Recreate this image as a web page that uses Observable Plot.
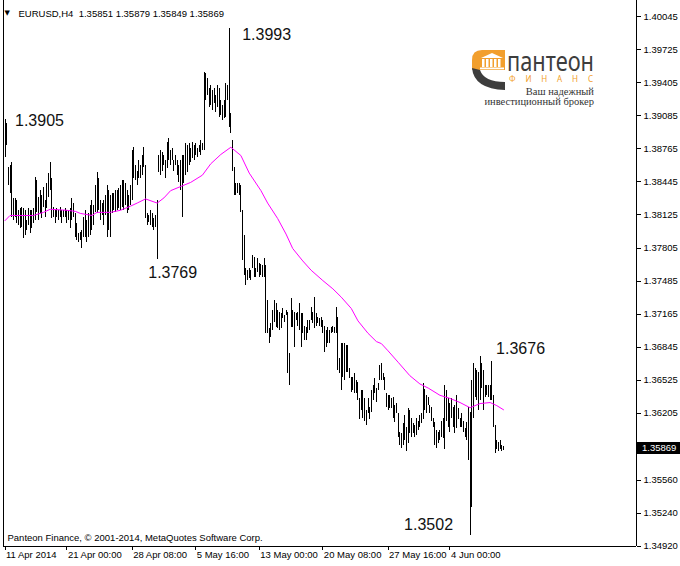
<!DOCTYPE html>
<html><head><meta charset="utf-8">
<script src="https://cdn.jsdelivr.net/npm/d3@7"></script>
<script src="https://cdn.jsdelivr.net/npm/@observablehq/plot@0.6"></script>
<style>body{margin:0;background:#fff} svg{display:block}</style>
</head><body><div id="chart"></div>
<script>
const symbol = "EURUSD,H4";
const lastOHLC = [1.35851, 1.35879, 1.35849, 1.35869];
const lastClose = 1.35869;
const copyright = "Panteon Finance, © 2001-2014, MetaQuotes Software Corp.";

const highs = [
1.3905,1.3901,1.3858,1.3860,1.3863,1.3828,1.3828,1.3826,1.3817,1.3819,
1.3820,1.3819,1.3817,1.3807,1.3819,1.3817,1.3817,1.3819,1.3849,1.3846,
1.3829,1.3836,1.3831,1.3839,1.3826,1.3843,1.3853,1.3863,1.3848,1.3820,
1.3817,1.3819,1.3817,1.3820,1.3817,1.3817,1.3819,1.3817,1.3817,1.3819,
1.3828,1.3824,1.3814,1.3804,1.3795,1.3796,1.3797,1.3810,1.3817,1.3807,1.3814,
1.3822,1.3826,1.3822,1.3841,1.3854,1.3848,1.3826,1.3824,1.3826,
1.3831,1.3841,1.3836,1.3831,1.3833,1.3833,1.3836,1.3836,1.3838,1.3841,
1.3846,1.3846,1.3843,1.3836,1.3831,1.3841,1.3875,1.3878,1.3860,1.3855,
1.3865,1.3860,1.3870,1.3878,1.3860,1.3814,1.3812,1.3817,1.3814,1.3809,
1.3812,1.3826,1.3870,1.3875,1.3873,1.3870,1.3865,1.3883,1.3886,1.3875,
1.3877,1.3865,1.3870,1.3865,1.3860,1.3865,1.3870,1.3870,1.3882,1.3880,
1.3882,1.3877,1.3883,1.3880,1.3882,1.3877,1.3880,1.3885,1.3882,
1.3950,1.3949,1.3945,1.3935,1.3938,1.3933,1.3935,1.3928,1.3938,1.3935,1.3923,
1.3918,1.3923,1.3940,1.3938,1.3993,1.3911,
1.3885,1.3858,1.3843,1.3843,1.3843,1.3841,1.3817,1.3793,1.3761,1.3759,1.3761,1.3759,1.3773,1.3771,
1.3761,1.3770,1.3766,1.3765,1.3764,1.3770,1.3764,1.3730,1.3703,1.3707,
1.3720,1.3730,1.3727,1.3720,1.3718,1.3717,1.3722,1.3715,1.3720,1.3718,
1.3678,1.3732,1.3720,1.3718,1.3717,1.3718,1.3727,1.3717,1.3717,1.3705,
1.3704,1.3710,1.3710,1.3723,1.3718,1.3733,1.3717,1.3713,1.3712,1.3713,
1.3710,1.3705,1.3701,1.3704,1.3701,1.3704,1.3705,1.3704,1.3723,1.3713,
1.3674,1.3688,1.3688,1.3688,1.3686,1.3686,1.3664,1.3655,1.3655,1.3659,
1.3652,1.3650,1.3635,1.3643,1.3643,1.3635,1.3623,1.3635,1.3626,1.3643,
1.3647,1.3654,1.3645,1.3649,1.3667,1.3669,1.3659,1.3655,1.3640,1.3638,
1.3638,1.3635,1.3636,1.3628,1.3630,1.3620,1.3602,1.3601,1.3611,1.3618,
1.3607,1.3625,1.3623,1.3616,1.3611,1.3609,1.3616,1.3613,1.3618,1.3620,
1.3649,1.3644,1.3638,1.3636,1.3628,1.3626,1.3616,1.3612,1.3604,1.3602,
1.3604,1.3613,1.3616,1.3647,1.3643,1.3635,1.3630,1.3635,1.3626,1.3628,
1.3638,1.3625,1.3616,1.3620,1.3613,1.3606,1.3612,1.3626,1.3621,1.3652,
1.3669,1.3664,1.3662,1.3660,1.3676,1.3669,1.3662,1.3647,1.3647,1.3647,
1.3647,1.3671,1.3638,1.3609,1.3594,1.3592,1.3594,1.3589,1.3588
];
const lows = [
1.3868,1.3880,1.3841,1.3833,1.3810,1.3807,1.3810,1.3804,1.3802,1.3799,
1.3800,1.3790,1.3793,1.3797,1.3802,1.3795,1.3799,1.3804,1.3807,1.3815,
1.3807,1.3814,1.3809,1.3820,1.3810,1.3819,1.3829,1.3836,1.3809,1.3810,
1.3804,1.3810,1.3807,1.3810,1.3804,1.3810,1.3810,1.3804,1.3807,1.3799,
1.3807,1.3810,1.3791,1.3788,1.3786,1.3788,1.3780,1.3791,1.3791,1.3786,1.3791,
1.3793,1.3797,1.3802,1.3815,1.3814,1.3817,1.3807,1.3812,1.3802,
1.3812,1.3791,1.3797,1.3791,1.3814,1.3817,1.3815,1.3817,1.3819,1.3817,
1.3820,1.3817,1.3822,1.3814,1.3817,1.3822,1.3826,1.3848,1.3846,1.3841,
1.3848,1.3848,1.3851,1.3858,1.3809,1.3802,1.3805,1.3802,1.3800,1.3797,
1.3800,1.3769,1.3854,1.3851,1.3855,1.3860,1.3848,1.3857,1.3865,1.3860,
1.3865,1.3855,1.3860,1.3851,1.3844,1.3836,1.3810,1.3843,1.3851,1.3854,
1.3860,1.3863,1.3867,1.3865,1.3870,1.3868,1.3873,1.3870,1.3875,
1.3875,1.3923,1.3928,1.3916,1.3918,1.3914,1.3920,1.3912,1.3916,1.3907,1.3909,
1.3904,1.3906,1.3907,1.3923,1.3897,1.3891,
1.3855,1.3831,1.3831,1.3833,1.3831,1.3815,1.3768,1.3754,1.3744,1.3749,1.3751,1.3749,1.3761,1.3752,
1.3752,1.3757,1.3752,1.3754,1.3752,1.3752,1.3698,1.3698,1.3688,1.3694,
1.3701,1.3708,1.3704,1.3703,1.3701,1.3703,1.3712,1.3708,1.3715,1.3659,
1.3647,1.3704,1.3704,1.3684,1.3710,1.3705,1.3701,1.3684,1.3698,1.3691,
1.3691,1.3698,1.3701,1.3710,1.3707,1.3703,1.3705,1.3707,1.3705,1.3704,
1.3698,1.3679,1.3684,1.3688,1.3688,1.3698,1.3699,1.3698,1.3698,1.3662,
1.3659,1.3643,1.3655,1.3652,1.3660,1.3660,1.3654,1.3641,1.3643,1.3640,
1.3640,1.3633,1.3615,1.3623,1.3616,1.3613,1.3609,1.3620,1.3615,1.3621,
1.3633,1.3640,1.3631,1.3643,1.3652,1.3652,1.3652,1.3643,1.3626,1.3623,
1.3625,1.3625,1.3616,1.3612,1.3620,1.3597,1.3589,1.3587,1.3589,1.3594,
1.3584,1.3591,1.3601,1.3597,1.3601,1.3597,1.3599,1.3604,1.3607,1.3611,
1.3615,1.3623,1.3620,1.3628,1.3620,1.3613,1.3607,1.3589,1.3587,1.3591,
1.3594,1.3597,1.3596,1.3586,1.3613,1.3607,1.3602,1.3616,1.3607,1.3601,
1.3606,1.3615,1.3607,1.3607,1.3602,1.3597,1.3594,1.3575,1.3502,1.3529,
1.3616,1.3636,1.3633,1.3623,1.3633,1.3645,1.3623,1.3636,1.3638,1.3636,
1.3633,1.3633,1.3607,1.3582,1.3586,1.3584,1.3586,1.3584,1.3585
];

// moving average (magenta) read at selected bars
const maBars = [0,3,9,17,23,27,37,42,45,52,55,63,69,75,79,84,91,95,99,105,111,118,123,129,135,141,146,153,157,163,168,172,178,183,190,196,201,207,211,217,222,225,229,235,242,248,253,260,266,272,278,284,290,294,298];
const maValues = [1.3807,1.3812,1.3812,1.3812,1.3815,1.3818,1.3817,1.3816,1.3814,1.3812,1.3815,1.3815,1.3817,1.3821,1.3824,1.3828,1.3824,1.3829,1.3836,1.3840,1.3844,1.3851,1.3862,1.3871,1.3878,1.3870,1.3853,1.3836,1.3824,1.3809,1.3794,1.3780,1.3768,1.3759,1.3749,1.3741,1.3733,1.3722,1.3710,1.3698,1.3690,1.3688,1.3681,1.3670,1.3657,1.3649,1.3645,1.3638,1.3635,1.3631,1.3626,1.3630,1.3631,1.3628,1.3624];

const timeTickBars = [0,37,76,114,152,190,229,266];
const timeTickLabels = ["11 Apr 2014","21 Apr 00:00","28 Apr 08:00","5 May 16:00","13 May 00:00","20 May 08:00","27 May 16:00","4 Jun 00:00"];
const priceTicks = [1.40045,1.39725,1.39405,1.39085,1.38765,1.38445,1.38125,1.37805,1.37485,1.37165,1.36845,1.36525,1.36205,1.35560,1.35240,1.34920];

const extremeBars = [0, 134, 91, 284, 278];
const extremePrices = [1.3905, 1.3993, 1.3769, 1.3676, 1.3502];

const bars = highs.map((h, i) => ({i, high: h, low: lows[i]}));
const ma = maBars.map((b, k) => ({i: b, v: maValues[k]}));
const labelMap = new Map(timeTickBars.map((b, k) => [b, timeTickLabels[k]]));
const xDomain = [-0.9, 377.5];
const yDomain = [1.34917, 1.40200];

// label offsets (layout only)
const annOffsets = [[10, 2, "start"], [13, 6, "start"], [-9, 13, "start"], [16, -7, "start"], [-17, -11, "end"]];
const ann = extremeBars.map((b, k) => ({i: b, p: extremePrices[k], dx: annOffsets[k][0], dy: annOffsets[k][1], anchor: annOffsets[k][2]}));

const font = "'Liberation Sans', Arial, sans-serif";
const plot = Plot.plot({
  width: 680, height: 566,
  marginLeft: 3, marginRight: 44, marginTop: 0, marginBottom: 20,
  style: {fontFamily: font, fontSize: "9.5px", background: "white", color: "black"},
  x: {type: "linear", domain: xDomain, axis: null, label: null},
  y: {domain: yDomain, axis: null, label: null},
  marks: [
    Plot.ruleX(bars, {x: "i", y1: "low", y2: "high", stroke: "black", strokeWidth: 1, shapeRendering: "crispEdges"}),
    Plot.line(ma, {x: "i", y: "v", stroke: "#ff00ff", strokeWidth: 1}),
    Plot.ruleX(xDomain, {stroke: "black", shapeRendering: "crispEdges"}),
    Plot.ruleY([yDomain[0]], {stroke: "black", shapeRendering: "crispEdges"}),
    Plot.axisY(priceTicks, {anchor: "right", label: null, tickSize: 4, tickPadding: 3, tickFormat: d => d.toFixed(5), shapeRendering: "crispEdges"}),
    Plot.axisX(timeTickBars, {anchor: "bottom", label: null, tickSize: 4, tickFormat: () => "", shapeRendering: "crispEdges"}),
    Plot.text(timeTickBars, {x: d => d, frameAnchor: "bottom", dy: 11, dx: 1, textAnchor: "start", text: d => labelMap.get(d)}),
    ...ann.map(a => Plot.text([a], {x: "i", y: "p", text: d => d.p.toFixed(4), dx: a.dx, dy: a.dy, textAnchor: a.anchor, fontSize: 16, fill: "#111"})),
    Plot.text([symbol + "  " + lastOHLC.map(v => v.toFixed(5)).join(" ")], {frameAnchor: "top-left", dx: 15, dy: 10, textAnchor: "start", text: d => d}),
    Plot.text(["▼"], {frameAnchor: "top-left", dx: 1, dy: 10, textAnchor: "start", fontSize: 7, fontFamily: "DejaVu Sans", text: d => d}),
    Plot.text([copyright], {frameAnchor: "bottom-left", dx: 4, dy: -6, textAnchor: "start", text: d => d})
  ]
});
document.getElementById("chart").appendChild(plot);

const svg = d3.select(plot);
const yy = plot.scale("y").apply(lastClose);
svg.append("rect").attr("x", 637).attr("y", Math.round(yy) - 6).attr("width", 43).attr("height", 12).attr("fill", "black");
svg.append("text").attr("x", 642).attr("y", yy).attr("dy", "0.35em").attr("fill", "white").attr("text-anchor", "start")
  .attr("font-family", font).attr("font-size", "9.5px").text(lastClose.toFixed(5));

// logo
const g = svg.append("g").attr("text-anchor", "start");
const orange = "#f29f2d", dark = "#3d3d3d";
g.append("path").attr("d", "M472,70 V60 Q472,50 482,50 H505 V70 Z").attr("fill", orange);
g.append("path").attr("d", "M481,58 L492,53 L503,58 Z").attr("fill", "white");
[482, 486, 490, 494, 498].forEach(x => g.append("rect").attr("x", x).attr("y", 59).attr("width", 2.5).attr("height", 8).attr("fill", "white"));
g.append("rect").attr("x", 480).attr("y", 67.5).attr("width", 24).attr("height", 1.8).attr("fill", "white");
g.append("path").attr("d", "M472,68 Q474,89 505,90 L505,82 Q484,82 480,70 Z").attr("fill", dark);
g.append("text").attr("x", 507).attr("y", 71).attr("text-anchor", "start").attr("font-family", "'Noto Sans', sans-serif").attr("font-size", 28)
  .attr("fill", dark).attr("textLength", 87).attr("lengthAdjust", "spacingAndGlyphs").text("пантеон");
g.append("text").attr("x", 509).attr("y", 82).attr("text-anchor", "start").attr("font-family", "'Noto Sans', sans-serif").attr("font-size", 8)
  .attr("fill", orange).attr("textLength", 84).attr("lengthAdjust", "spacing").text("ФИНАНС");
g.append("text").attr("x", 594).attr("y", 95).attr("text-anchor", "end").attr("font-family", "'Liberation Serif', serif")
  .attr("font-size", 10.5).attr("fill", "#333").text("Ваш надежный");
g.append("text").attr("x", 594).attr("y", 105).attr("text-anchor", "end").attr("font-family", "'Liberation Serif', serif")
  .attr("font-size", 10.5).attr("fill", "#333").text("инвестиционный брокер");
</script></body></html>
